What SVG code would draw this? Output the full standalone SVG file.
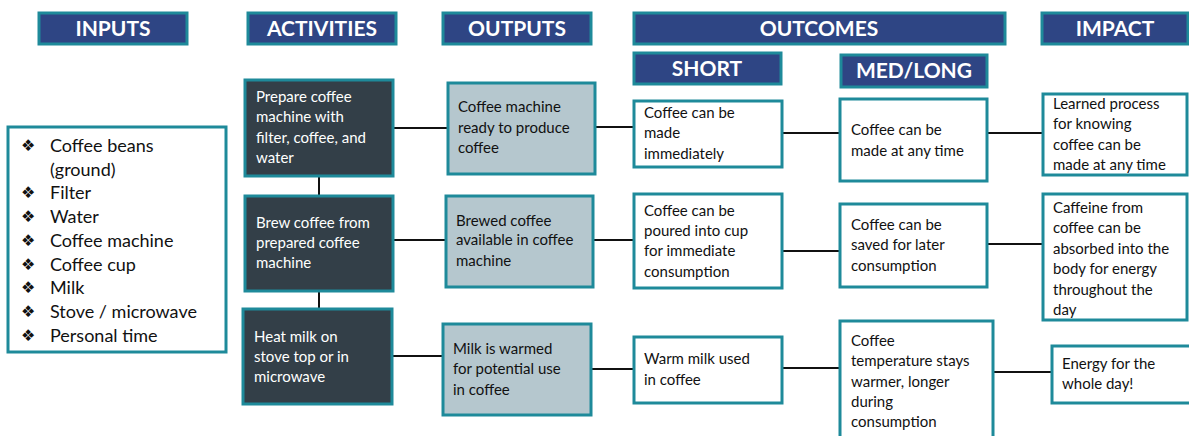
<svg xmlns="http://www.w3.org/2000/svg" width="1189" height="436" viewBox="0 0 1189 436">
<style>
.hdr{fill:#2E4584;stroke:#1E8A9A;stroke-width:3}
.ht{fill:#fff;font-family:Lato,"Liberation Sans",sans-serif;font-weight:bold;font-size:21px;text-anchor:middle}
.act{fill:#333F48;stroke:#1E8A9A;stroke-width:3}
.out{fill:#B5C7CE;stroke:#1E8A9A;stroke-width:3}
.wb{fill:#fff;stroke:#1E8A9A;stroke-width:3}
.t{font-family:Lato,"Liberation Sans",sans-serif;font-size:15px;fill:#111}
.tw{font-family:Lato,"Liberation Sans",sans-serif;font-size:15px;fill:#fff}
.li{font-family:Lato,"Liberation Sans",sans-serif;font-size:18px;fill:#111}
.bu{font-family:"DejaVu Sans",sans-serif;font-size:16px;fill:#111}
.c{stroke:#111;stroke-width:2;fill:none}
</style>
<rect width="1189" height="436" fill="#fff"/>
<g id="headers">
<g id="h-inputs"><rect class="hdr" x="39" y="13" width="148" height="31"/><text class="ht" x="113" y="36">INPUTS</text></g>
<g id="h-activities"><rect class="hdr" x="248" y="13" width="148" height="31"/><text class="ht" x="322" y="36">ACTIVITIES</text></g>
<g id="h-outputs"><rect class="hdr" x="443" y="13" width="148" height="31"/><text class="ht" x="517" y="36">OUTPUTS</text></g>
<g id="h-outcomes"><rect class="hdr" x="634" y="13" width="371" height="31"/><text class="ht" x="819" y="36">OUTCOMES</text></g>
<g id="h-short"><rect class="hdr" x="634" y="53" width="147" height="31"/><text class="ht" x="707" y="76">SHORT</text></g>
<g id="h-medlong"><rect class="hdr" x="841" y="55" width="146" height="32"/><text class="ht" x="914" y="78">MED/LONG</text></g>
<g id="h-impact"><rect class="hdr" x="1042" y="13" width="146" height="31"/><text class="ht" x="1115" y="36">IMPACT</text></g>
</g>
<g id="connectors">
<line class="c" x1="319" y1="176" x2="319" y2="195"/>
<line class="c" x1="319" y1="291" x2="319" y2="308"/>
<line class="c" x1="393" y1="128" x2="447" y2="128"/>
<line class="c" x1="393" y1="240" x2="445" y2="240"/>
<line class="c" x1="392" y1="356" x2="442" y2="356"/>
<line class="c" x1="595" y1="127" x2="633" y2="127"/>
<line class="c" x1="593" y1="240" x2="633" y2="240"/>
<line class="c" x1="591" y1="369" x2="633" y2="369"/>
<line class="c" x1="782" y1="133" x2="839" y2="133"/>
<line class="c" x1="782" y1="251" x2="839" y2="251"/>
<line class="c" x1="782" y1="368" x2="839" y2="368"/>
<line class="c" x1="987" y1="133" x2="1042" y2="133"/>
<line class="c" x1="987" y1="244" x2="1042" y2="244"/>
<line class="c" x1="994" y1="372" x2="1051" y2="372"/>
</g>
<g id="inputs">
<rect class="wb" x="8" y="127" width="218" height="225"/>
<text class="bu" x="21" y="151">❖</text><text class="li" x="50" y="152">Coffee beans</text>
<text class="li" x="50" y="176">(ground)</text>
<text class="bu" x="21" y="198">❖</text><text class="li" x="50" y="199">Filter</text>
<text class="bu" x="21" y="222">❖</text><text class="li" x="50" y="223">Water</text>
<text class="bu" x="21" y="246">❖</text><text class="li" x="50" y="247">Coffee machine</text>
<text class="bu" x="21" y="270">❖</text><text class="li" x="50" y="271">Coffee cup</text>
<text class="bu" x="21" y="293">❖</text><text class="li" x="50" y="294">Milk</text>
<text class="bu" x="21" y="317">❖</text><text class="li" x="50" y="318">Stove / microwave</text>
<text class="bu" x="21" y="341">❖</text><text class="li" x="50" y="342">Personal time</text>
</g>
<g id="act1"><rect class="act" x="245" y="80" width="148" height="96"/>
<text class="tw"><tspan x="256" y="102">Prepare coffee</tspan><tspan x="256" y="122">machine with</tspan><tspan x="256" y="143">filter, coffee, and</tspan><tspan x="256" y="163">water</tspan></text></g>
<g id="act2"><rect class="act" x="245" y="196" width="148" height="95"/>
<text class="tw"><tspan x="256" y="228">Brew coffee from</tspan><tspan x="256" y="248">prepared coffee</tspan><tspan x="256" y="268">machine</tspan></text></g>
<g id="act3"><rect class="act" x="243" y="309" width="149" height="95"/>
<text class="tw"><tspan x="254" y="342">Heat milk on</tspan><tspan x="254" y="362">stove top or in</tspan><tspan x="254" y="382">microwave</tspan></text></g>
<g id="out1"><rect class="out" x="448" y="83" width="147" height="91"/>
<text class="t"><tspan x="458" y="112">Coffee machine</tspan><tspan x="458" y="133">ready to produce</tspan><tspan x="458" y="153">coffee</tspan></text></g>
<g id="out2"><rect class="out" x="446" y="196" width="147" height="91"/>
<text class="t"><tspan x="456" y="226">Brewed coffee</tspan><tspan x="456" y="245">available in coffee</tspan><tspan x="456" y="266">machine</tspan></text></g>
<g id="out3"><rect class="out" x="443" y="324" width="148" height="91"/>
<text class="t"><tspan x="453" y="354">Milk is warmed</tspan><tspan x="453" y="374">for potential use</tspan><tspan x="453" y="395">in coffee</tspan></text></g>
<g id="short1"><rect class="wb" x="634" y="101" width="148" height="66"/>
<text class="t"><tspan x="644" y="118">Coffee can be</tspan><tspan x="644" y="138">made</tspan><tspan x="644" y="159">immediately</tspan></text></g>
<g id="short2"><rect class="wb" x="634" y="194" width="148" height="94"/>
<text class="t"><tspan x="644" y="216">Coffee can be</tspan><tspan x="644" y="236">poured into cup</tspan><tspan x="644" y="256">for immediate</tspan><tspan x="644" y="277">consumption</tspan></text></g>
<g id="short3"><rect class="wb" x="634" y="337" width="148" height="66"/>
<text class="t"><tspan x="644" y="364">Warm milk used</tspan><tspan x="644" y="385">in coffee</tspan></text></g>
<g id="med1"><rect class="wb" x="840" y="99" width="147" height="82"/>
<text class="t"><tspan x="851" y="135">Coffee can be</tspan><tspan x="851" y="156">made at any time</tspan></text></g>
<g id="med2"><rect class="wb" x="840" y="204" width="147" height="83"/>
<text class="t"><tspan x="851" y="230">Coffee can be</tspan><tspan x="851" y="250">saved for later</tspan><tspan x="851" y="271">consumption</tspan></text></g>
<g id="med3"><rect class="wb" x="840" y="321" width="153" height="125"/>
<text class="t"><tspan x="851" y="346">Coffee</tspan><tspan x="851" y="366">temperature stays</tspan><tspan x="851" y="387">warmer, longer</tspan><tspan x="851" y="407">during</tspan><tspan x="851" y="427">consumption</tspan></text></g>
<g id="imp1"><rect class="wb" x="1043" y="94" width="144" height="81"/>
<text class="t"><tspan x="1053" y="109">Learned process</tspan><tspan x="1053" y="129">for knowing</tspan><tspan x="1053" y="150">coffee can be</tspan><tspan x="1053" y="170">made at any time</tspan></text></g>
<g id="imp2"><rect class="wb" x="1043" y="194" width="144" height="126"/>
<text class="t"><tspan x="1053" y="213">Caffeine from</tspan><tspan x="1053" y="233">coffee can be</tspan><tspan x="1053" y="254">absorbed into the</tspan><tspan x="1053" y="274">body for energy</tspan><tspan x="1053" y="295">throughout the</tspan><tspan x="1053" y="315">day</tspan></text></g>
<g id="imp3"><rect class="wb" x="1052" y="346" width="150" height="57"/>
<text class="t"><tspan x="1062" y="369">Energy for the</tspan><tspan x="1062" y="389">whole day!</tspan></text></g>
</svg>
